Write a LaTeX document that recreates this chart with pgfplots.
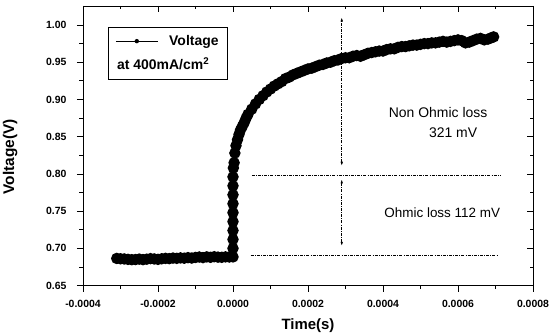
\documentclass[border=0pt]{standalone}
\usepackage{fontspec}
\setmainfont{Liberation Sans}
\usepackage{pgfplots}
\pgfplotsset{compat=1.18}
\usetikzlibrary{arrows.meta}
\begin{document}
\begin{tikzpicture}
\pgfplotsset{
  common/.style={
    scale only axis, width=450bp, height=279.6bp,
    xmin=-0.0004, xmax=0.0008, ymin=0.65, ymax=1.0255,
    xtick={-0.0004,-0.0002,0,0.0002,0.0004,0.0006,0.0008},
    ytick={0.65,0.70,0.75,0.80,0.85,0.90,0.95,1.00},
    minor x tick num=1, minor y tick num=1,
    scaled x ticks=false, scaled y ticks=false,
    major tick length=6bp, minor tick length=3.5bp,
    axis line style={line width=0.9bp},
    every tick/.style={black, line width=0.8bp},
  }
}
\begin{axis}[common,
  tick align=outside, xtick pos=left, ytick pos=left,
  /pgf/number format/assume math mode=true,
  xticklabel={\pgfmathprintnumber[fixed,fixed zerofill,precision=4]{\tick}},
  yticklabel={\pgfmathprintnumber[fixed,fixed zerofill,precision=2]{\tick}},
  ticklabel style={font=\fontsize{10.5}{11}\selectfont\bfseries},
  xticklabel style={yshift=-5bp},
  yticklabel style={xshift=-7bp},
  xlabel={Time(s)}, ylabel={Voltage(V)},
  xlabel style={font=\fontsize{15}{16}\selectfont\bfseries, at={(axis description cs:0.5,-0.142)}, anchor=center},
  ylabel style={font=\fontsize{15.5}{16}\selectfont\bfseries, at={(axis description cs:-0.162,0.46)}, anchor=center, rotate=0},
  legend style={at={(axis description cs:0.0556,0.925)}, anchor=north west,
    draw=black, line width=0.8bp, font=\fontsize{14}{15}\selectfont\bfseries,
    row sep=7bp, inner xsep=7bp, inner ysep=6bp},
  legend cell align=left,
  clip=false,
]
\addplot[black, line width=4bp, mark=*, mark size=3.6bp,
  legend image code/.code={\draw[black,line width=0.8bp] (0bp,0bp) -- (42bp,0bp); \path[fill=black, draw=none] (21bp,0bp) circle (2.2bp);}]
coordinates {
(-0.00031,0.6865) (-0.00030,0.6860) (-0.00029,0.6858) (-0.00028,0.6852) (-0.00027,0.6848)
(-0.00026,0.6850) (-0.00025,0.6856) (-0.00024,0.6849) (-0.00023,0.6855) (-0.00022,0.6862)
(-0.00021,0.6858) (-0.00020,0.6852) (-0.00019,0.6860) (-0.00018,0.6866) (-0.00017,0.6862)
(-0.00016,0.6870) (-0.00015,0.6866) (-0.00014,0.6872) (-0.00013,0.6868) (-0.00012,0.6876)
(-0.00011,0.6870) (-0.00010,0.6878) (-0.00009,0.6884) (-0.00008,0.6876) (-0.00007,0.6886)
(-0.00006,0.6880) (-0.00005,0.6888) (-0.00004,0.6882) (-0.00003,0.6880) (-0.00002,0.6886)
(-0.00001,0.6884) (0,0.6885)
(0,0.700) (0,0.712) (0,0.724) (0,0.736) (0,0.748) (0,0.760) (0,0.772) (0,0.784) (0,0.796)
(0.000001,0.808) (0.000003,0.815) (0.000005,0.828) (0.000008,0.838) (0.000012,0.846)
(0.000016,0.853) (0.00002,0.859) (0.000025,0.864) (0.00003,0.869) (0.000035,0.875)
(0.00004,0.880) (0.00005,0.887) (0.00006,0.894) (0.00007,0.900) (0.00008,0.905)
(0.00009,0.910) (0.00010,0.914) (0.00011,0.918) (0.00012,0.921) (0.00013,0.924)
(0.00014,0.928) (0.00015,0.930) (0.00016,0.933) (0.00017,0.935) (0.00018,0.937)
(0.00019,0.939) (0.00020,0.941) (0.00021,0.942) (0.00022,0.944) (0.00023,0.946)
(0.00024,0.947) (0.00025,0.949) (0.00026,0.950) (0.00027,0.952) (0.00028,0.953)
(0.00029,0.955) (0.00030,0.956) (0.00031,0.956) (0.00032,0.958) (0.00033,0.959)
(0.00034,0.958) (0.00035,0.960) (0.00036,0.962) (0.00037,0.963) (0.00038,0.964)
(0.00039,0.965) (0.00040,0.965) (0.00041,0.967) (0.00042,0.968) (0.00043,0.968)
(0.00044,0.970) (0.00045,0.971) (0.00046,0.971) (0.00047,0.972) (0.00048,0.973)
(0.00049,0.973) (0.00050,0.974) (0.00051,0.975) (0.00052,0.975) (0.00053,0.976)
(0.00054,0.976) (0.00055,0.977) (0.00056,0.978) (0.00057,0.977) (0.00058,0.978)
(0.00059,0.979) (0.00060,0.980) (0.00061,0.979) (0.00062,0.976) (0.00063,0.977)
(0.00064,0.979) (0.00065,0.981) (0.00066,0.982) (0.00067,0.980) (0.00068,0.981)
(0.00069,0.983) (0.000695,0.984)
};
\addlegendentry{\hspace{9bp}Voltage}
\addlegendimage{empty legend}
\addlegendentry{\hspace{-43bp}at 400mA/cm\textsuperscript{2}}
% annotations
\tikzset{ann/.style={black, line width=0.6bp, dash pattern=on 3bp off 1.2bp on 0.8bp off 1.2bp}}
\draw[ann] (axis cs:0.00005,0.7985) -- (axis cs:0.000715,0.7985);
\draw[ann] (axis cs:0.000047,0.691) -- (axis cs:0.000705,0.691);
\draw[ann, {Latex[length=4bp,width=2.6bp]}-{Latex[length=4bp,width=2.6bp]}] (axis cs:0.00029,0.811) -- (axis cs:0.00029,1.010);
\draw[ann, {Latex[length=4bp,width=2.6bp]}-{Latex[length=4bp,width=2.6bp]}] (axis cs:0.00029,0.7925) -- (axis cs:0.00029,0.7035);
\node[font=\fontsize{14}{15}\selectfont] at (axis cs:0.000547,0.8818) {Non Ohmic loss};
\node[font=\fontsize{14}{15}\selectfont] at (axis cs:0.000587,0.855) {321 mV};
\node[font=\fontsize{13.5}{15}\selectfont] at (axis cs:0.000558,0.7475) {Ohmic loss 112 mV};
\end{axis}
\begin{axis}[common, tick align=inside, xtick pos=right, ytick pos=right,
  xticklabels={}, yticklabels={}]
\end{axis}
\pgfresetboundingbox
\path (current axis.south west) ++(-83bp,-48.4bp) coordinate (bbA);
\path (current axis.north east) ++(16bp,6bp) coordinate (bbB);
\useasboundingbox (bbA) rectangle (bbB);
\end{tikzpicture}
\end{document}
